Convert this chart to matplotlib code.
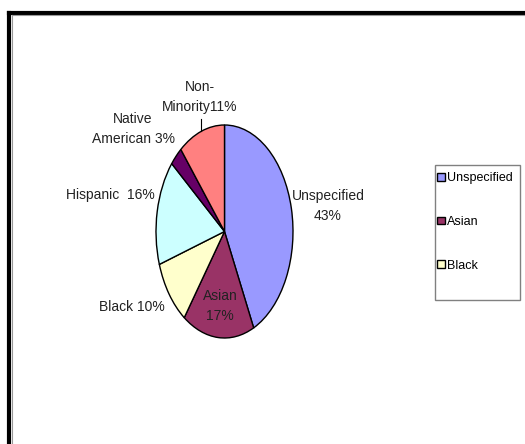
import matplotlib.pyplot as plt
import numpy as np
from matplotlib.lines import Line2D
from matplotlib.patches import Rectangle

W, H = 525, 444

groups = ["Unspecified", "Asian", "Black", "Hispanic", "Native American", "Non-Minority"]
shares = [43, 17, 10, 16, 3, 11]
colors = ["#9999FF", "#993366", "#FFFFCC", "#CCFFFF", "#660066", "#FF8080"]
legend_count = 3  # only the first three entries fit in the legend box

plt.rcParams['font.family'] = ['Liberation Sans', 'DejaVu Sans']

fig = plt.figure(figsize=(W / 100, H / 100), dpi=100)
fig.patch.set_facecolor("white")

def px_axes(x0, y0, x1, y1):
    return fig.add_axes([x0 / W, 1 - y1 / H, (x1 - x0) / W, (y1 - y0) / H])

# elliptical pie (the original is stretched vertically)
ax = px_axes(156, 125, 293, 338)
wedges, _ = ax.pie(shares, colors=colors, startangle=90, counterclock=False,
                   wedgeprops=dict(edgecolor="black", linewidth=1))
ax.set_aspect("auto")
ax.set_xlim(-1, 1)
ax.set_ylim(-1, 1)

# leader line for Non-Minority
ang = np.deg2rad(90 + 360 * shares[5] / 200)
ax.plot([np.cos(ang), np.cos(ang)], [np.sin(ang), np.sin(ang) + 0.12],
        color="black", lw=0.8, clip_on=False)

def label(x, y, s, ha="center"):
    fig.text(x / W, 1 - y / H, s, ha=ha, va="center", fontsize=10,
             linespacing=1.55, color="#222222")

label(328, 206, "Unspecified\n43%")
label(220, 306, "Asian\n17%")
label(132, 307, "Black 10%")
label(110, 195, "Hispanic  16%")
label(133, 129, "Native\nAmerican 3%")
label(200, 97, "Non-\nMinority11%")

# legend box drawn separately (the original box is taller than its entries)
fig.add_artist(Rectangle((435 / W, 1 - 300 / H), 85 / W, 135 / H,
                         transform=fig.transFigure, facecolor="white",
                         edgecolor="#808080", lw=1))
leg = fig.legend(wedges[:legend_count], groups[:legend_count],
                 loc="upper left", bbox_to_anchor=(437 / W, 1 - 172 / H),
                 fontsize=9, frameon=False,
                 handlelength=0.6, handleheight=0.6, handletextpad=0.2,
                 labelspacing=2.55, borderpad=0, borderaxespad=0)
for h in leg.legend_handles:
    h.set_linewidth(1)

# page border (left and top only, the rest is cropped)
fig.add_artist(Line2D([9 / W, 9 / W], [0, 1 - 13 / H], color="black", lw=3,
                      transform=fig.transFigure, solid_capstyle="projecting"))
fig.add_artist(Line2D([9 / W, 1], [1 - 13 / H, 1 - 13 / H], color="black", lw=3,
                      transform=fig.transFigure, solid_capstyle="projecting"))
fig.add_artist(Line2D([11.5 / W, 11.5 / W], [0, 1 - 15.5 / H], color="#999999", lw=0.8,
                      transform=fig.transFigure))
fig.add_artist(Line2D([11.5 / W, 1], [1 - 15.5 / H, 1 - 15.5 / H], color="#999999", lw=0.8,
                      transform=fig.transFigure))

fig.savefig("out.png", dpi=100)
